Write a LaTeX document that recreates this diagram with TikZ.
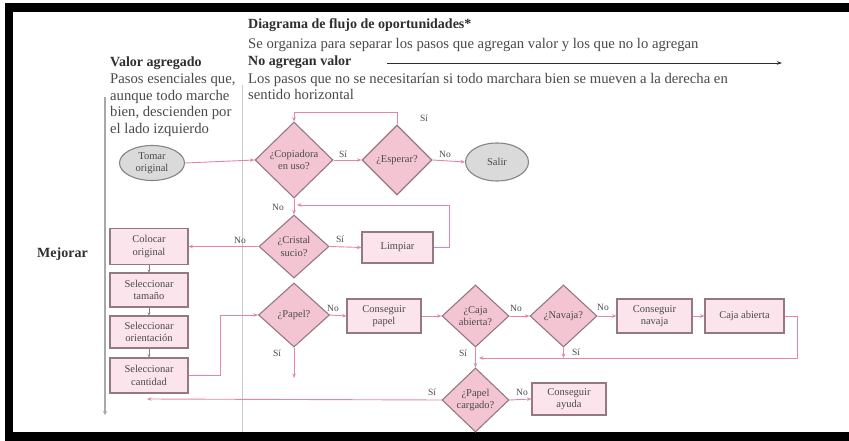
\documentclass[tikz,border=0pt]{standalone}
\usepackage{fontspec}
\setmainfont{Liberation Serif}
\usetikzlibrary{shapes.geometric,arrows.meta}
\definecolor{dfill}{HTML}{F3C5D3}
\definecolor{bfill}{HTML}{FBE4EC}
\definecolor{edge}{HTML}{957884}
\definecolor{flow}{HTML}{E585AA}
\definecolor{efill}{HTML}{DADADA}
\definecolor{eedge}{HTML}{858585}
\definecolor{txt}{HTML}{4A4A4A}
\definecolor{head}{HTML}{2E2E2E}
\definecolor{rule}{HTML}{A8A8A8}
\newcommand{\zc}[1]{\makebox[0pt]{#1}}
\tikzset{
  decision/.style={diamond, draw=edge, line width=1.1pt, fill=dfill, inner sep=0pt,
    align=center, text=txt, font=\fontsize{10.5}{12.5}\selectfont},
  stepbox/.style={rectangle, draw=edge, line width=1.1pt, fill=bfill, inner sep=1pt,
    align=center, text=txt, font=\fontsize{10.5}{12.5}\selectfont},
  terminal/.style={ellipse, draw=eedge, line width=1.1pt, fill=efill, inner sep=0pt,
    align=center, text=txt, font=\fontsize{10.5}{12.5}\selectfont},
  arr/.style={draw=flow, line width=0.9pt, -{Stealth[length=4.5pt,width=3.6pt]}},
  tinyarr/.style={draw=edge, line width=0.9pt, -{Stealth[length=3pt,width=3pt]}},
  lbl/.style={text=txt, font=\fontsize{9.5}{11}\selectfont, inner sep=0pt},
  hdr/.style={anchor=base west, inner sep=0pt, text=txt, font=\fontsize{14.7}{16}\selectfont},
  hdrb/.style={anchor=base west, inner sep=0pt, text=head, font=\fontsize{14}{16}\selectfont\bfseries},
}
\begin{document}
\begin{tikzpicture}[x=1pt,y=-1pt]
\useasboundingbox (0,0) rectangle (849,441);
\fill[white] (0,0) rectangle (849,441);
% frame
\fill[black] (5,3) rectangle (849,12);
\fill[black] (5,3) rectangle (13,441);
\fill[black] (5,432) rectangle (849,441);

% header texts
\node[hdrb] (title) at (248,29) {Diagrama de flujo de oportunidades*};
\node[hdr]  (sub)   at (248,49) {Se organiza para separar los pasos que agregan valor y los que no lo agregan};
\node[hdrb] (nav0)  at (248,66) {No agregan valor};
\node[hdr]  (nav1)  at (248,84) {Los pasos que no se necesitarían si todo marchara bien se mueven a la derecha en};
\node[hdr]  (nav2)  at (248,100) {sentido horizontal};
\node[hdrb] (va0)   at (110,67) {Valor agregado};
\node[hdr]  (va1)   at (110,84) {Pasos esenciales que,};
\node[hdr]  (va2)   at (110,101) {aunque todo marche};
\node[hdr]  (va3)   at (110,117) {bien, descienden por};
\node[hdr]  (va4)   at (110,134) {el lado izquierdo};
\node[hdrb] (mej)   at (37,257) {Mejorar};

% guide lines
\coordinate (h1) at (387,63); \coordinate (h2) at (782,63);
\draw[draw=head, line width=0.8pt, -{Stealth[length=5pt,width=3.5pt]}] (h1) -- (h2);
\coordinate (g1) at (105,97); \coordinate (g2) at (105,415);
\draw[draw=rule, line width=1.4pt, -{Stealth[length=4pt,width=4pt]}] (g1) -- (g2);
\coordinate (s1) at (242,85); \coordinate (s2) at (242,432);
\draw[draw=rule!60, line width=0.8pt] (s1) -- (s2);

% nodes
\node[terminal, minimum width=65pt, minimum height=35pt] (tomar) at (152,163) {\zc{Tomar}\\\zc{original}};
\node[decision, minimum width=78pt, minimum height=76pt] (cop) at (294,160) {\zc{¿Copiadora}\\\zc{en uso?}};
\node[decision, minimum width=70pt, minimum height=70pt] (esp) at (397,160) {\zc{¿Esperar?}};
\node[terminal, minimum width=63pt, minimum height=38pt] (salir) at (497,162) {\zc{Salir}};
\node[decision, minimum width=70pt, minimum height=63pt] (cr) at (294,246.5) {\zc{¿Cristal}\\\zc{sucio?}};
\node[stepbox, minimum width=71pt, minimum height=31pt] (limp) at (397.5,247.5) {Limpiar};
\node[stepbox, minimum width=78pt, minimum height=36pt] (col) at (149,246.5) {Colocar\\original};
\node[stepbox, minimum width=78pt, minimum height=34pt] (tam) at (149,290) {Seleccionar\\tamaño};
\node[stepbox, minimum width=78pt, minimum height=32pt] (ori) at (149,332) {Seleccionar\\orientación};
\node[stepbox, minimum width=78pt, minimum height=35pt] (cant) at (149,375.5) {Seleccionar\\cantidad};
\node[decision, minimum width=71pt, minimum height=64pt] (pap) at (294,315) {\zc{¿Papel?}};
\node[stepbox, minimum width=74pt, minimum height=34pt] (cpap) at (384,316) {Conseguir\\papel};
\node[decision, minimum width=67pt, minimum height=62pt] (caja) at (475.5,316) {\zc{¿Caja}\\\zc{abierta?}};
\node[decision, minimum width=67pt, minimum height=62pt] (nav) at (563.5,316) {\zc{¿Navaja?}};
\node[stepbox, minimum width=75pt, minimum height=34pt] (cnav) at (654.5,316) {Conseguir\\navaja};
\node[stepbox, minimum width=79pt, minimum height=34pt] (cab) at (744.5,316) {Caja abierta};
\node[decision, minimum width=67pt, minimum height=64pt] (pc) at (475.5,400) {\zc{¿Papel}\\\zc{cargado?}};
\node[stepbox, minimum width=74pt, minimum height=32pt] (ayu) at (569,399) {Conseguir\\ayuda};

% connectors
\draw[arr] (tomar.east) -- (cop.west);
\draw[arr] (cop.east) -- (esp.west);
\draw[arr] (esp.east) -- (salir.west);
\draw[arr] (esp.north) -- ++(0,-12) -| (cop.north);
\draw[arr] (cop.south) -- (cr.north);
\coordinate (j1) at (297,205);
\draw[arr] (limp.east) -- ++(16,0) |- (j1);
\draw[arr] (cr.east) -- (limp.west);
\draw[arr] (cr.west) -- (col.east);
\draw[tinyarr] (col.south) -- (tam.north);
\draw[tinyarr] (tam.south) -- (ori.north);
\draw[tinyarr] (ori.south) -- (cant.north);
\draw[arr] (cant.east) -- ++(32,0) |- (pap.west);
\draw[arr] (pap.east) -- (cpap.west);
\coordinate (pend) at (294,378);
\draw[arr] (pap.south) -- (pend);
\draw[arr] (cpap.east) -- (caja.west);
\draw[arr] (caja.east) -- (nav.west);
\draw[arr] (nav.east) -- (cnav.west);
\draw[arr] (cnav.east) -- (cab.west);
\coordinate (j2) at (479,358);
\draw[arr] (cab.east) -- ++(13,0) |- (j2);
\draw[arr] (nav.south) -- (nav.south |- j2);
\draw[arr] (caja.south) -- (pc.north);
\coordinate (fin) at (147,399);
\draw[arr] (pc.west) -- (fin);
\draw[arr] (pc.east) -- (ayu.west);

% branch labels
\node[lbl] (t1) at (343,154) {Sí};
\node[lbl] (t2) at (445,154) {No};
\node[lbl] (t3) at (424,118) {Sí};
\node[lbl] (t4) at (278,207) {No};
\node[lbl] (t5) at (340,239) {Sí};
\node[lbl] (t6) at (240,240) {No};
\node[lbl] (t7) at (333,308) {No};
\node[lbl] (t8) at (277,353) {Sí};
\node[lbl] (t9) at (516,308) {No};
\node[lbl] (t10) at (603,307) {No};
\node[lbl] (t11) at (576,352) {Sí};
\node[lbl] (t12) at (463,353) {Sí};
\node[lbl] (t13) at (432,392) {Sí};
\node[lbl] (t14) at (522,392) {No};
\end{tikzpicture}
\end{document}
